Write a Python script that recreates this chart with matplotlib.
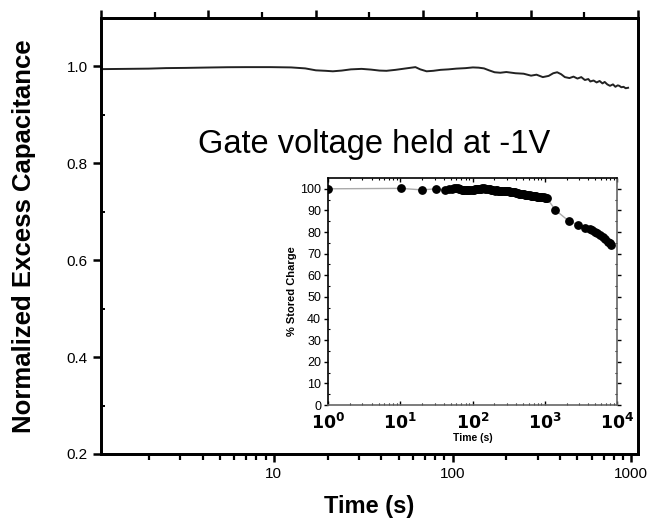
import matplotlib
matplotlib.use("Agg")
import matplotlib.pyplot as plt
from matplotlib.ticker import FixedLocator, NullFormatter, LogLocator

plt.rcParams['font.family'] = ['Liberation Sans', 'DejaVu Sans']

# main curve: normalized excess capacitance vs time (s)
time_s = [1.09, 1.5, 2.0, 2.5, 3.2, 4.3, 5.5, 7.0, 9.6, 12.5, 15, 17.2, 19.5, 21.4, 24,
          27, 31, 35, 39, 42.7, 48, 55, 62, 66, 71.6, 78, 85.8, 95, 105, 118, 130, 140,
          150, 160, 172, 185, 200, 225, 250, 275, 295, 320, 345, 366, 385, 405, 425,
          451, 475, 500, 525, 550, 575, 590, 615, 640, 665, 690, 710, 734, 760, 790,
          815, 840, 857, 880, 905, 930, 960]
capacitance = [0.9945, 0.995, 0.9955, 0.9966, 0.997, 0.9978, 0.9984, 0.9986, 0.9986, 0.998,
               0.996, 0.992, 0.991, 0.990, 0.9915, 0.994, 0.995, 0.9935, 0.9915, 0.991,
               0.993, 0.996, 0.9986, 0.994, 0.990, 0.991, 0.993, 0.994, 0.9955, 0.9965,
               0.998, 0.9975, 0.996, 0.992, 0.988, 0.987, 0.9885, 0.986, 0.985, 0.981,
               0.983, 0.978, 0.9805, 0.986, 0.988, 0.984, 0.978, 0.976, 0.979, 0.975,
               0.978, 0.972, 0.974, 0.969, 0.971, 0.967, 0.970, 0.965, 0.968, 0.963,
               0.960, 0.963, 0.958, 0.961, 0.960, 0.957, 0.958, 0.955, 0.956]

# inset: % stored charge vs time (s)
inset_time = [1, 10.2, 20, 31, 41, 48, 52, 56, 60, 63, 65, 68, 71, 74, 77, 80, 83, 87, 90,
              95, 100, 104, 108, 112, 116, 121, 127, 131, 135, 142, 150, 158, 167, 175,
              180, 188, 195, 203, 210, 218, 225, 233, 241, 250, 260, 270, 280, 290, 300,
              310, 320, 333, 345, 358, 370, 385, 400, 415, 430, 445, 460, 480, 500, 520,
              540, 555, 570, 595, 620, 640, 660, 680, 700, 730, 760, 785, 810, 840, 870,
              900, 930, 965, 1000, 1035, 1070,
              1400, 2150, 2900, 3650, 4200, 4550, 5000, 5350, 5800, 6300, 6800, 7400,
              7900, 8300]
stored_charge = [100, 100.2, 99.5, 100, 99.5, 99.8, 100, 100.4, 100.5, 100.3, 100, 99.7,
                 99.4, 99.5, 99.6, 99.6, 99.5, 99.4, 99.3, 99.3, 99.4, 99.6, 99.7, 99.7,
                 99.8, 99.9, 100, 100.1, 100.2, 100.3, 100.1, 100.0, 99.9, 99.7, 99.6,
                 99.5, 99.3, 99.2, 99.3, 99.3, 99.1, 99.1, 99.1, 99.0, 99.0, 99.0, 98.9,
                 98.9, 98.9, 98.8, 98.8, 98.7, 98.6, 98.5, 98.5, 98.3, 98.2, 98.1, 98.0,
                 97.8, 97.7, 97.6, 97.6, 97.4, 97.3, 97.2, 97.2, 97.0, 97.0, 96.9, 96.8,
                 96.7, 96.6, 96.5, 96.5, 96.4, 96.3, 96.2, 96.2, 96.1, 96.1, 96.0, 95.9,
                 95.8, 95.7,
                 90.2, 85.1, 83.3, 82.0, 81.3, 80.8, 80.0, 79.4, 78.5, 77.5, 76.7, 75.6,
                 74.8, 74.0]

fig = plt.figure(figsize=(6.49, 5.22), dpi=100)
ax = fig.add_axes([0.1556, 0.1303, 0.8274, 0.8352])
ax.plot(time_s, capacitance, color='#222222', linewidth=1.4)
ax.set_xscale('log')
ax.set_xlim(1.08, 1090)
ax.set_ylim(0.2, 1.1)
ax.set_xticks([10, 100, 1000])
ax.set_xticklabels(['10', '100', '1000'])
ax.xaxis.set_minor_locator(LogLocator(base=10, subs=range(2, 10)))
ax.xaxis.set_minor_formatter(NullFormatter())
ax.set_yticks([0.2, 0.4, 0.6, 0.8, 1.0])
ax.set_yticklabels(['0.2', '0.4', '0.6', '0.8', '1.0'])
ax.yaxis.set_minor_locator(FixedLocator([0.3, 0.5, 0.7, 0.9]))
ax.tick_params(axis='both', which='major', direction='out', length=6, width=1.8,
               labelsize=11, right=False)
ax.tick_params(axis='x', which='minor', direction='out', length=4, width=1.6)
ax.tick_params(axis='y', which='minor', direction='in', length=3, width=1.4)
for s in ax.spines.values():
    s.set_linewidth(2)
ax.set_xlabel('Time (s)', fontsize=17, fontweight='bold', labelpad=10)
ax.set_ylabel('Normalized Excess Capacitance', fontsize=18.5, fontweight='bold', labelpad=22)
ax.text(0.508, 0.71, 'Gate voltage held at -1V', transform=ax.transAxes,
        fontsize=23.5, ha='center', va='center')

# top axis with evenly spaced ticks, no labels
top = ax.twiny()
top.set_xlim(0, 10)
top.set_xticks([0, 2, 4, 6, 8, 10])
top.xaxis.set_minor_locator(FixedLocator([1, 3, 5, 7, 9]))
top.tick_params(axis='x', which='major', direction='out', length=6, width=1.8, labeltop=False)
top.tick_params(axis='x', which='minor', direction='out', length=4, width=1.6)
for s in top.spines.values():
    s.set_linewidth(2)

# inset
ins = fig.add_axes([0.5054, 0.2241, 0.4453, 0.4349])
ins.plot(inset_time, stored_charge, color='#aaaaaa', linewidth=1.0, zorder=1)
ins.scatter(inset_time, stored_charge, color='black', s=28, zorder=2)
ins.set_xscale('log')
ins.set_xlim(1, 10000)
ins.set_ylim(0, 105)
ins.set_xticks([1, 10, 100, 1000, 10000])
ins.set_xticklabels([r'$\mathbf{10^0}$', r'$\mathbf{10^1}$', r'$\mathbf{10^2}$',
                     r'$\mathbf{10^3}$', r'$\mathbf{10^4}$'])
ins.xaxis.set_minor_locator(LogLocator(base=10, subs=range(2, 10)))
ins.xaxis.set_minor_formatter(NullFormatter())
ins.set_yticks(range(0, 101, 10))
ins.yaxis.set_minor_locator(FixedLocator(range(5, 101, 10)))
ins.tick_params(axis='x', which='major', labelsize=12.5, length=3, width=1.0,
                direction='in', top=True, pad=5)
ins.tick_params(axis='x', which='minor', length=1.5, width=0.8, direction='in', top=True)
ins.tick_params(axis='y', which='major', labelsize=9, length=3, width=1.0,
                direction='out', right=True, pad=2)
ins.tick_params(axis='y', which='minor', length=1.5, width=0.8, direction='in', right=True)
for s in ins.spines.values():
    s.set_linewidth(1.2)
ins.spines['right'].set_color('#666666')
ins.spines['bottom'].set_color('#666666')
ins.set_xlabel('Time (s)', fontsize=7.5, fontweight='bold', labelpad=1)
ins.set_ylabel('% Stored Charge', fontsize=8, fontweight='bold', labelpad=2)

fig.savefig('out.png', dpi=100)
